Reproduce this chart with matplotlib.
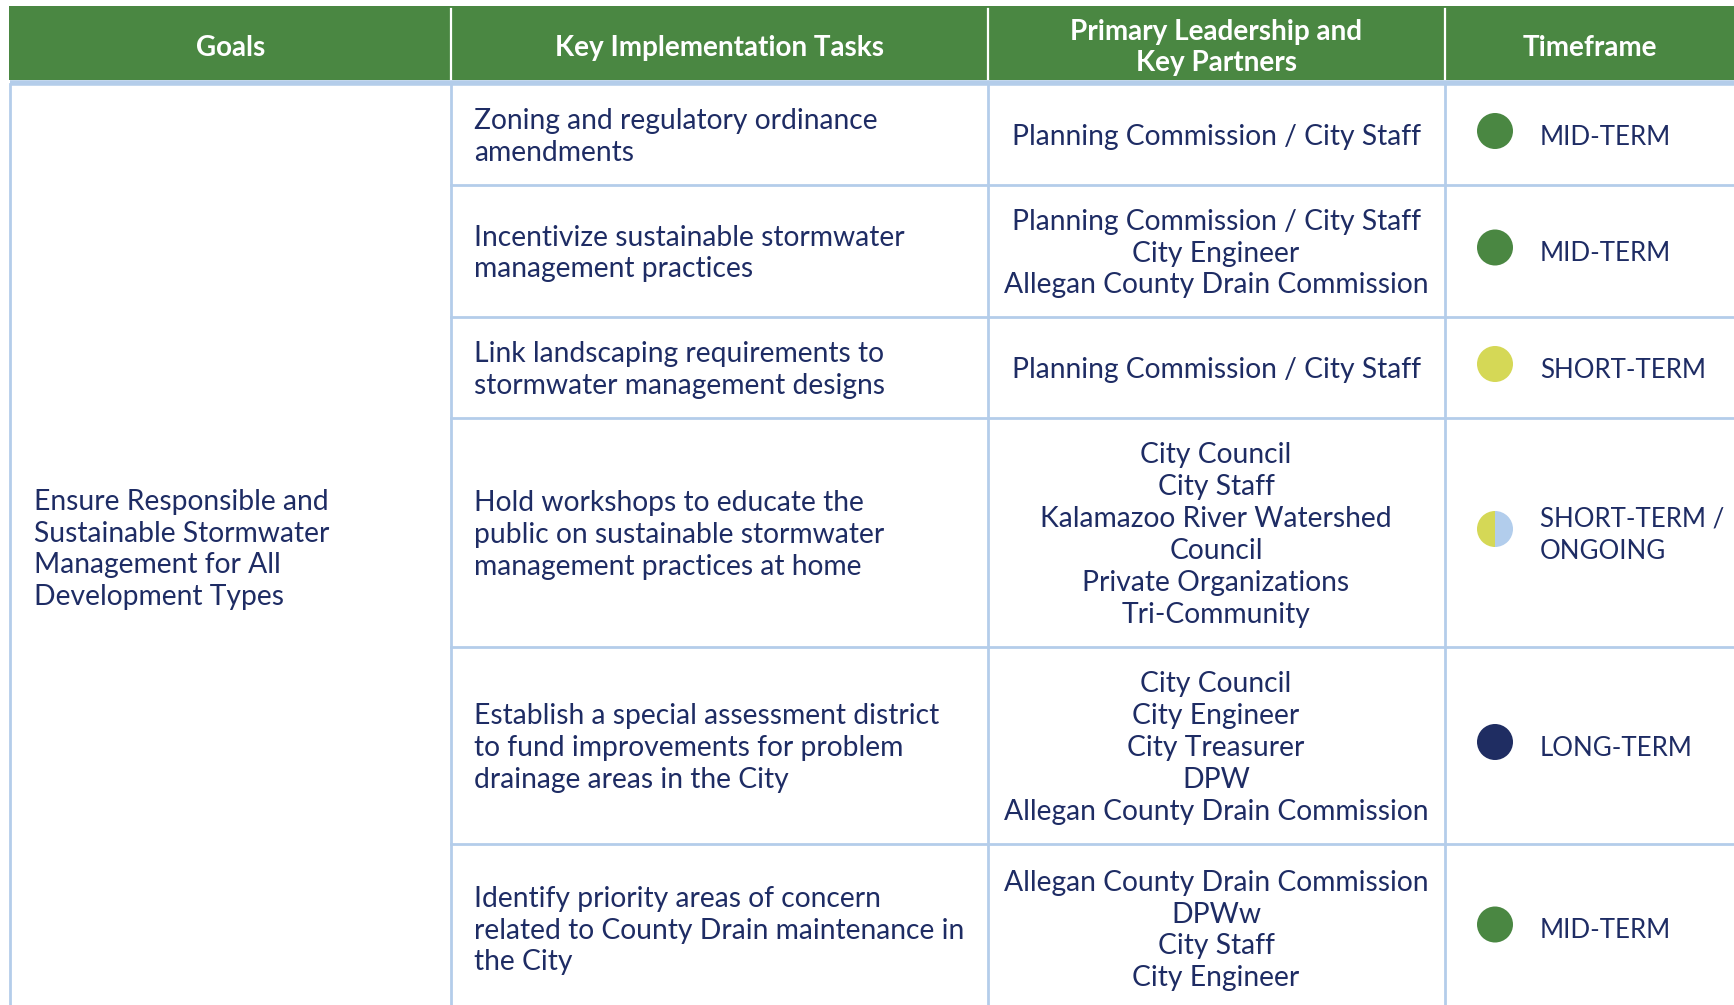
import matplotlib
matplotlib.use("Agg")
import matplotlib.pyplot as plt
from matplotlib.patches import Rectangle, Circle, Wedge

# ---- data ----
headers = ["Goals", "Key Implementation Tasks", "Primary Leadership and\nKey Partners", "Timeframe"]
goal = "Ensure Responsible and\nSustainable Stormwater\nManagement for All\nDevelopment Types"
tasks = [
    "Zoning and regulatory ordinance\namendments",
    "Incentivize sustainable stormwater\nmanagement practices",
    "Link landscaping requirements to\nstormwater management designs",
    "Hold workshops to educate the\npublic on sustainable stormwater\nmanagement practices at home",
    "Establish a special assessment district\nto fund improvements for problem\ndrainage areas in the City",
    "Identify priority areas of concern\nrelated to County Drain maintenance in\nthe City",
]
partners = [
    "Planning Commission / City Staff",
    "Planning Commission / City Staff\nCity Engineer\nAllegan County Drain Commission",
    "Planning Commission / City Staff",
    "City Council\nCity Staff\nKalamazoo River Watershed\nCouncil\nPrivate Organizations\nTri-Community",
    "City Council\nCity Engineer\nCity Treasurer\nDPW\nAllegan County Drain Commission",
    "Allegan County Drain Commission\nDPWw\nCity Staff\nCity Engineer",
]
timeframes = ["MID-TERM", "MID-TERM", "SHORT-TERM", "SHORT-TERM /\nONGOING", "LONG-TERM", "MID-TERM"]

# ---- style ----
GREEN = "#4A8742"
YELLOW = "#D5D856"
LBLUE = "#B2CDEC"
NAVY = "#1F2D62"
TEXT = "#1E2C64"
BORDER = "#B4CDEA"
tf_colors = {
    "MID-TERM": [GREEN],
    "SHORT-TERM": [YELLOW],
    "SHORT-TERM /\nONGOING": [YELLOW, LBLUE],
    "LONG-TERM": [NAVY],
}

W, H = 1734, 1005
col_edges = [10, 451, 988, 1445, 1760]
header_top, header_bot = 6, 80
row_edges = [84, 185, 317, 418, 647, 844, 1012]

plt.rcParams['font.family'] = ['Lato', 'DejaVu Sans']
fig = plt.figure(figsize=(W / 100, H / 100), dpi=100)
ax = fig.add_axes([0, 0, 1, 1])
ax.set_xlim(0, W)
ax.set_ylim(H, 0)
ax.axis("off")

FS = 20.3
LS = 1.28
DY = 2.5

# header
ax.add_patch(Rectangle((col_edges[0] - 1, header_top), col_edges[-1] - col_edges[0], header_bot - header_top,
                       facecolor=GREEN, edgecolor="none"))
for i, h in enumerate(headers):
    cx = (col_edges[i] + col_edges[i + 1]) / 2
    if i == 3:
        cx = 1590
    ax.text(cx, (header_top + header_bot) / 2 + 4.5, h, color="white", fontsize=20.1, fontweight="bold",
            ha="center", va="center", linespacing=1.28)
for x in col_edges[1:4]:
    ax.plot([x, x], [header_top + 3, header_bot], color="white", lw=1.6)
ax.plot([col_edges[0], W], [header_bot + 2.5, header_bot + 2.5], color=BORDER, lw=4.0, solid_capstyle="butt")

# body grid
for x in col_edges[:4]:
    ax.plot([x, x], [header_bot + 4, H], color=BORDER, lw=2.0)
for y in row_edges[1:-1]:
    ax.plot([col_edges[1], W], [y, y], color=BORDER, lw=2.0)

# goal text
ax.text(34, (row_edges[0] + H) / 2 + 5, goal, color=TEXT, fontsize=FS, ha="left", va="center", linespacing=LS)

# rows
for r in range(len(tasks)):
    cy = (row_edges[r] + row_edges[r + 1]) / 2 + DY
    ax.text(474, cy, tasks[r], color=TEXT, fontsize=FS, ha="left", va="center", linespacing=LS)
    ax.text(1216, cy, partners[r], color=TEXT, fontsize=FS, ha="center", va="center",
            linespacing=LS, multialignment="center")
    cols = tf_colors[timeframes[r]]
    ccx, ccy, rad = 1495, cy - 6, 18
    if len(cols) == 1:
        ax.add_patch(Circle((ccx, ccy), rad, facecolor=cols[0], edgecolor="none"))
    else:
        ax.add_patch(Wedge((ccx, ccy), rad, 90, 270, facecolor=cols[0], edgecolor="none"))
        ax.add_patch(Wedge((ccx, ccy), rad, 270, 90, facecolor=cols[1], edgecolor="none"))
    ax.text(1540, cy, timeframes[r], color=TEXT, fontsize=18.6, ha="left", va="center", linespacing=1.38)

fig.savefig("out.png", dpi=100)
